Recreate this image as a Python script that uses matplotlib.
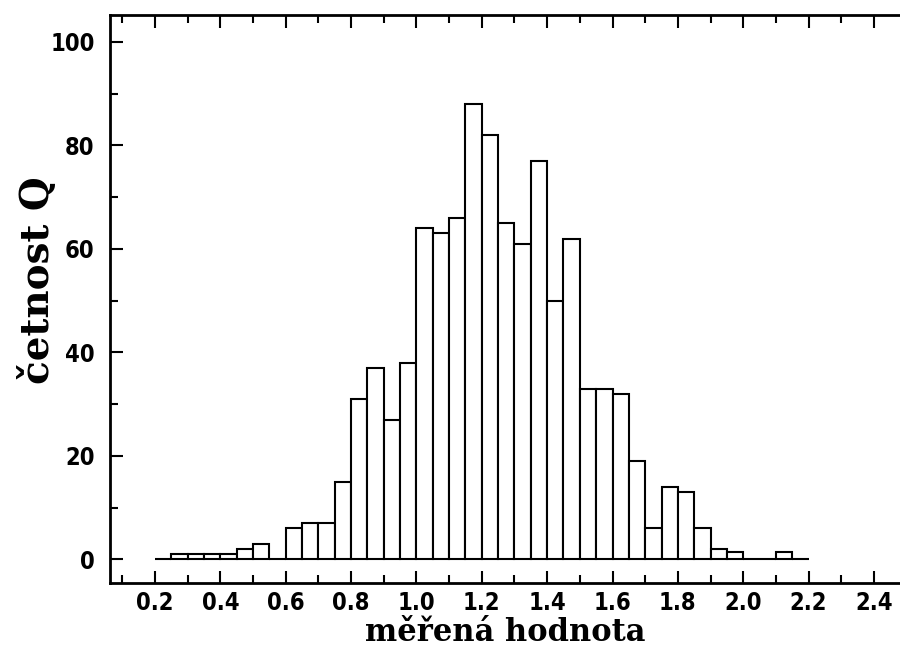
import numpy as np
import matplotlib
matplotlib.use('Agg')
import matplotlib.pyplot as plt
from matplotlib.ticker import MultipleLocator, FormatStrFormatter

# histogram data, bins 0.05 wide from 0.20 to 2.20
bin_left = [0.20, 0.25, 0.30, 0.35, 0.40, 0.45, 0.50, 0.55, 0.60, 0.65,
            0.70, 0.75, 0.80, 0.85, 0.90, 0.95, 1.00, 1.05, 1.10, 1.15,
            1.20, 1.25, 1.30, 1.35, 1.40, 1.45, 1.50, 1.55, 1.60, 1.65,
            1.70, 1.75, 1.80, 1.85, 1.90, 1.95, 2.00, 2.05, 2.10, 2.15]
counts = [0, 1, 1, 1, 1, 2, 3, 0, 6, 7,
          7, 15, 31, 37, 27, 38, 64, 63, 66, 88,
          82, 65, 61, 77, 50, 62, 33, 33, 32, 19,
          6, 14, 13, 6, 2, 1.5, 0, 0, 1.5, 0]
bin_width = 0.05

x_label = 'měřená hodnota'
y_label = 'četnost Q'

# Parameters of the figure
fig_width = 9
fig_length = 6.48
linewidth = 1.5

fig = plt.figure(figsize=(fig_width, fig_length), dpi=100)
fig.patch.set_facecolor('white')
ax = fig.add_axes([0.1222, 0.1003, 0.8778, 0.8773])

ax.bar(bin_left, counts, width=bin_width, align='edge',
       facecolor='white', edgecolor='black', lw=linewidth)

ax.set_xlim(0.0623, 2.4797)
ax.set_ylim(-4.58, 105.3)

ax.xaxis.set_major_locator(MultipleLocator(0.2))
ax.xaxis.set_minor_locator(MultipleLocator(0.1))
ax.yaxis.set_major_locator(MultipleLocator(20))
ax.yaxis.set_minor_locator(MultipleLocator(10))
ax.xaxis.set_major_formatter(FormatStrFormatter('%.1f'))

ax.tick_params(axis='x', which='both', direction='in', top=True, bottom=True, width=1.5)
ax.tick_params(axis='y', which='both', direction='in', left=True, right=False, width=1.5)
ax.tick_params(which='major', length=9)
ax.tick_params(which='minor', length=6)
ax.tick_params(axis='x', pad=6)
ax.tick_params(axis='y', pad=11)

for lab in ax.get_xticklabels() + ax.get_yticklabels():
    lab.set_fontfamily('DejaVu Sans')
    lab.set_fontstretch('condensed')
    lab.set_fontweight('bold')
    lab.set_fontsize(17)

for s in ['left', 'bottom', 'top']:
    ax.spines[s].set_linewidth(2)
ax.spines['right'].set_visible(False)

ax.set_xlabel(x_label, family='DejaVu Serif', fontweight='bold', fontsize=22, labelpad=1)
ax.set_ylabel(y_label, family='DejaVu Serif', fontweight='bold', fontsize=28)
ax.yaxis.set_label_coords(-0.067, 0.533)

plt.savefig('out.png', dpi=100)
